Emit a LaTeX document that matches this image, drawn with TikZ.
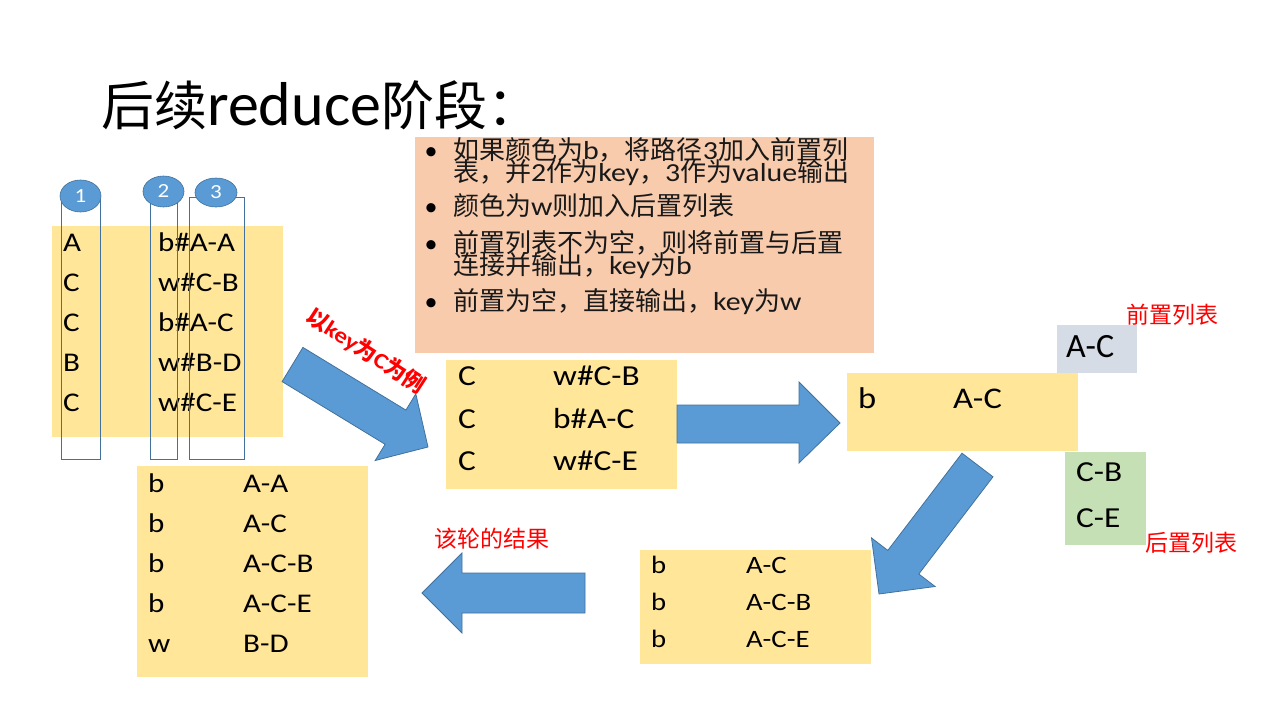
\documentclass[tikz,border=0pt]{standalone}
\usepackage{fontspec}
\setmainfont{Carlito}[FakeStretch=1.15]
\newfontfamily\plain{Carlito}
\newfontfamily\cjk{Noto Sans CJK SC}
\newcommand\zh[1]{{\cjk #1}}
\usetikzlibrary{shapes.geometric}

\definecolor{boxyellow}{HTML}{FFE699}
\definecolor{boxpeach}{HTML}{F8CBAD}
\definecolor{boxgray}{HTML}{D6DCE5}
\definecolor{boxgreen}{HTML}{C5E0B4}
\definecolor{badgeblue}{HTML}{5B9BD5}
\definecolor{frameblue}{HTML}{41719C}
\definecolor{notered}{HTML}{FF0000}

\tikzset{
  panel/.style={inner sep=0, anchor=north west},
  ybox/.style={panel, fill=boxyellow},
  cell/.style={anchor=base west, inner sep=0, text=black},
  big/.style={font=\fontsize{29}{32}\selectfont},
  mid/.style={font=\fontsize{27}{30}\selectfont},
  small/.style={font=\fontsize{25}{28}\selectfont},
  colframe/.style={panel, draw=frameblue, line width=0.9},
  badge/.style={ellipse, fill=badgeblue, draw=frameblue, line width=0.6,
    inner sep=0, text=white, font=\fontsize{20}{22}\selectfont},
  blockarrow/.style={fill=badgeblue, draw=frameblue, line width=0.8, line join=miter},
  redlabel/.style={inner sep=0, text=notered, font=\cjk\fontsize{23}{26}\selectfont},
  ruleline/.style={anchor=base west, inner sep=0, text=black!90,
    font=\fontsize{26}{28}\selectfont},
  bulletmark/.style={anchor=base, inner sep=0, text=black, font=\plain\fontsize{26}{28}\selectfont}
}

\begin{document}
\begin{tikzpicture}[x=1pt,y=-1pt]
  \useasboundingbox (0,0) rectangle (1280,720);
  \fill[white] (0,0) rectangle (1280,720);

  % heading
  \node[anchor=base west, inner sep=0, font=\plain\fontsize{62}{66}\selectfont] (title) at (101,125)
    {{\cjk\fontsize{53}{60}\selectfont 后续}reduce{\cjk\fontsize{53}{60}\selectfont 阶段：}};

  % input records with their three columns
  \node[ybox, minimum width=231, minimum height=211] (input) at (52,226) {};
  \foreach \k/\v [count=\i from 0] in {A/b\#A-A, C/w\#C-B, C/b\#A-C, B/w\#B-D, C/w\#C-E} {
    \node[cell, mid] (ink\i) at (63,251+40*\i) {\k};
    \node[cell, mid] (inv\i) at (158,251+40*\i) {\v};
  }
  \node[colframe, minimum width=39, minimum height=261] (col1) at (61,198) {};
  \node[colframe, minimum width=27, minimum height=265] (col2) at (150,194) {};
  \node[colframe, minimum width=55, minimum height=262] (col3) at (189,197) {};
  \node[badge, minimum width=41, minimum height=32] (b1) at (80.5,196) {1};
  \node[badge, minimum width=41, minimum height=31] (b2) at (163.5,191.5) {2};
  \node[badge, minimum width=42, minimum height=29] (b3) at (216,192.5) {3};

  % rules box
  \node[panel, fill=boxpeach, minimum width=459, minimum height=216] (rules) at (415,137) {};
  \node[bulletmark] (m1) at (431,159) {\textbullet};
  \node[ruleline] (r1) at (453,159) {\zh{如果颜色为}b\zh{，将路径}3\zh{加入前置列}};
  \node[ruleline] (r2) at (453,181) {\zh{表，并}2\zh{作为}key\zh{，}3\zh{作为}value\zh{输出}};
  \node[bulletmark] (m2) at (431,215) {\textbullet};
  \node[ruleline] (r3) at (453,215) {\zh{颜色为}w\zh{则加入后置列表}};
  \node[bulletmark] (m3) at (431,252) {\textbullet};
  \node[ruleline] (r4) at (453,252) {\zh{前置列表不为空，则将前置与后置}};
  \node[ruleline] (r5) at (453,274) {\zh{连接并输出，}key\zh{为}b};
  \node[bulletmark] (m4) at (431,310) {\textbullet};
  \node[ruleline] (r6) at (453,310) {\zh{前置为空，直接输出，}key\zh{为}w};

  % arrow into the key C group
  \fill[blockarrow] (302.9,347.4) -- (405.9,410.1) -- (415.8,393.9) -- (428,447)
    -- (375.2,460.5) -- (385.1,444.3) -- (282.1,381.6) -- cycle;
  \node[redlabel, rotate=-33, font=\fontsize{22}{24}\selectfont\bfseries] (example) at (366,351)
    {\zh{以}key\zh{为}C\zh{为例}};

  % records for key C
  \node[ybox, minimum width=231, minimum height=129] (groupc) at (446,360) {};
  \foreach \v/\y [count=\i] in {w\#C-B/385, b\#A-C/428, w\#C-E/470} {
    \node[cell, big] (gk\i) at (458,\y) {C};
    \node[cell, big] (gv\i) at (553,\y) {\v};
  }

  % arrow to the front list step
  \fill[blockarrow] (677,405) -- (799,405) -- (799,382) -- (840,423)
    -- (799,463) -- (799,443) -- (677,443) -- cycle;

  % front list output
  \node[ybox, minimum width=231, minimum height=78] (front) at (847,373) {};
  \node[cell, font=\fontsize{30}{33}\selectfont] (fk) at (858,408) {b};
  \node[cell, font=\fontsize{30}{33}\selectfont] (fv) at (953,408) {A-C};
  \node[panel, fill=boxgray, minimum width=80, minimum height=48] (prelist) at (1057,325) {};
  \node[cell, font=\plain\fontsize{34}{36}\selectfont] (pre) at (1066,357) {A-C};
  \node[redlabel, anchor=west] (prename) at (1126,315) {前置列表};
  \node[panel, fill=boxgreen, minimum width=81, minimum height=93] (postlist) at (1065,452) {};
  \node[cell, big] (post1) at (1076,481) {C-B};
  \node[cell, big] (post2) at (1076,527) {C-E};
  \node[redlabel, anchor=west] (postname) at (1145,543) {后置列表};

  % arrow down to the joined paths
  \fill[blockarrow] (962,453.2) -- (887.8,550.4) -- (871.5,537.9) -- (879,594)
    -- (935.1,586.5) -- (918.8,574) -- (993,476.8) -- cycle;

  % joined paths
  \node[ybox, minimum width=231, minimum height=114] (joined) at (640,550) {};
  \foreach \v/\y [count=\i] in {A-C/573, A-C-B/610, A-C-E/647} {
    \node[cell, small] (jk\i) at (651,\y) {b};
    \node[cell, small] (jv\i) at (746,\y) {\v};
  }

  % arrow to the round result
  \fill[blockarrow] (585,573) -- (462,573) -- (462,553) -- (422,593)
    -- (462,633) -- (462,613) -- (585,613) -- cycle;
  \node[redlabel, anchor=west] (resultname) at (434,539) {该轮的结果};

  % result of this round
  \node[ybox, minimum width=231, minimum height=211] (result) at (137,466) {};
  \foreach \k/\v [count=\i from 0] in {b/A-A, b/A-C, b/A-C-B, b/A-C-E, w/B-D} {
    \node[cell, mid] (rk\i) at (148,492+40*\i) {\k};
    \node[cell, mid] (rv\i) at (243,492+40*\i) {\v};
  }
\end{tikzpicture}
\end{document}
